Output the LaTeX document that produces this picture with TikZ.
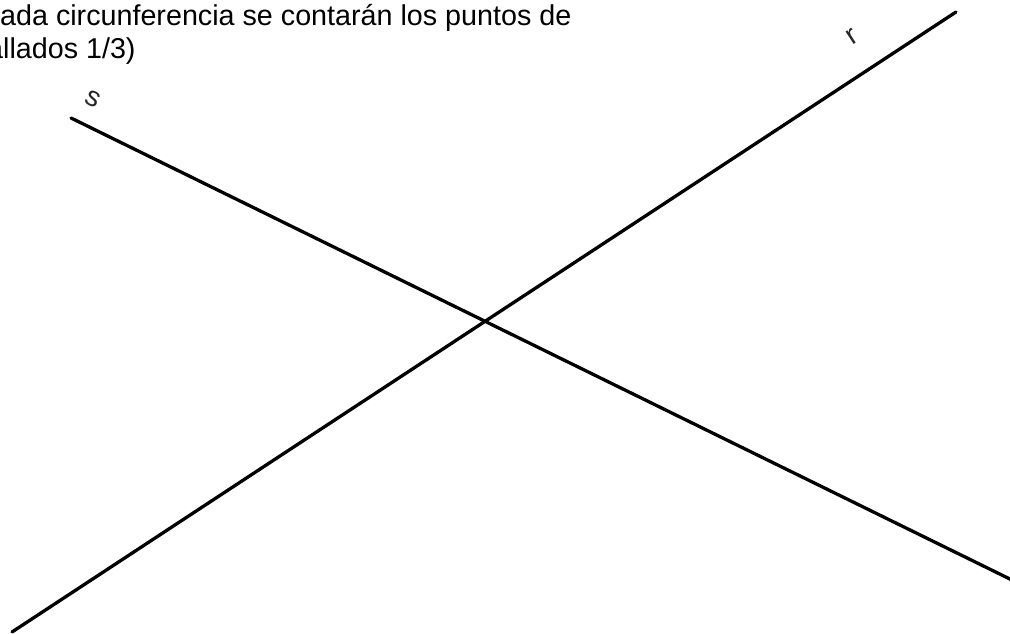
\documentclass[tikz,border=0pt]{standalone}
\usepackage{fontspec}
\setmainfont{Liberation Sans}
\begin{document}
\begin{tikzpicture}[x=1pt,y=-1pt,
  lineseg/.style={line width=3.3pt,line cap=round,black},
  bodytext/.style={anchor=base west,inner sep=0pt,font=\fontsize{28.7}{33}\selectfont},
  linelabel/.style={inner sep=0pt,font=\fontsize{28}{30}\selectfont,black!85}]
\useasboundingbox (0,0) rectangle (1010,634);
\clip (0,0) rectangle (1010,634);
\coordinate (r1) at (12,632);
\coordinate (r2) at (956,12);
\coordinate (s1) at (71,118);
\coordinate (s2) at (1016,582);
\draw[lineseg] (r1) -- (r2);
\draw[lineseg] (s1) -- (s2);
\node[bodytext] (t1) at (0,26) {ada circunferencia se contarán los puntos de};
\node[bodytext] (t2) at (-13,59) {allados 1/3)};
\node[linelabel,rotate=-26] (ls) at (93,99) {s};
\node[linelabel,rotate=33] (lr) at (852,37) {r};
\end{tikzpicture}
\end{document}
